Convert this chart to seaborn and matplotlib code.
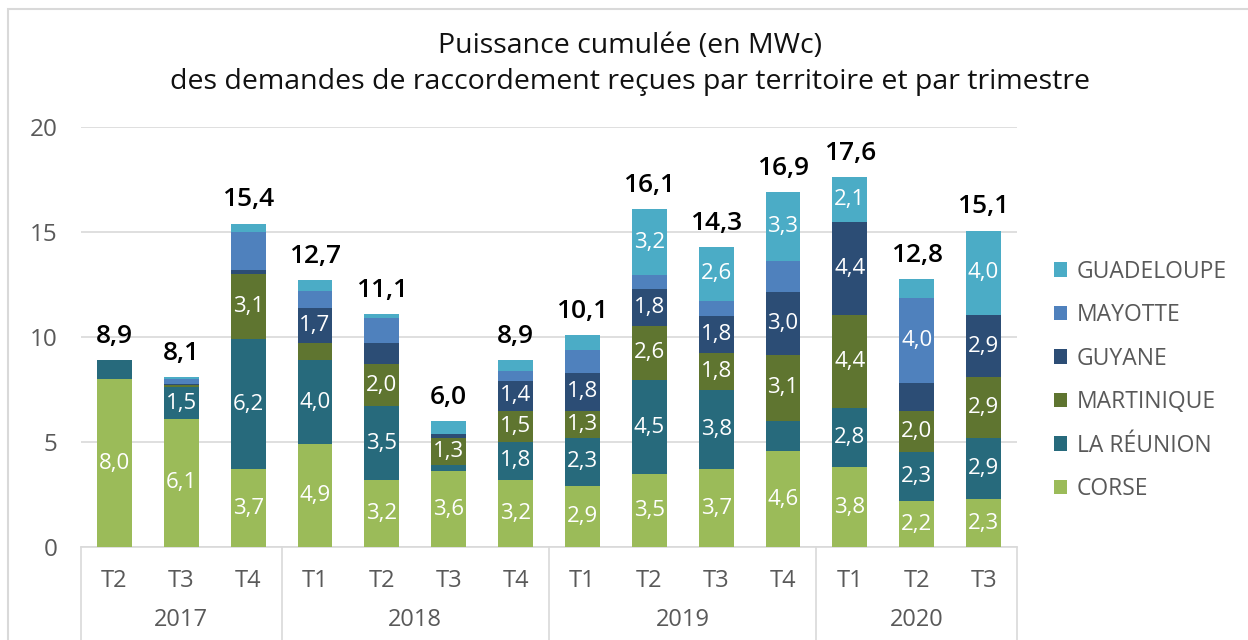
import matplotlib
matplotlib.use("Agg")
import matplotlib.pyplot as plt
import matplotlib.transforms as mtransforms
from matplotlib.patches import Patch, Rectangle
import seaborn as sns
import pandas as pd

# data (MWc)
quarters = ["T2", "T3", "T4", "T1", "T2", "T3", "T4", "T1", "T2", "T3", "T4", "T1", "T2", "T3"]
years = ["2017", "2018", "2019", "2020"]
year_sizes = [3, 4, 4, 3]

corse = [8.0, 6.1, 3.7, 4.9, 3.2, 3.6, 3.2, 2.9, 3.46, 3.70, 4.56, 3.80, 2.18, 2.27]
reunion = [0.9, 1.5, 6.2, 4.0, 3.5, 0.3, 1.8, 2.3, 4.49, 3.76, 1.46, 2.84, 2.33, 2.94]
martinique = [0.0, 0.1, 3.1, 0.8, 2.0, 1.3, 1.5, 1.3, 2.59, 1.78, 3.12, 4.41, 1.97, 2.88]
guyane = [0.0, 0.05, 0.2, 1.7, 1.0, 0.2, 1.4, 1.8, 1.76, 1.77, 2.99, 4.43, 1.32, 2.94]
mayotte = [0.0, 0.25, 1.8, 0.8, 1.2, 0.0, 0.5, 1.1, 0.63, 0.72, 1.51, 0.0, 4.04, 0.0]
guadeloupe = [0.0, 0.1, 0.4, 0.5, 0.2, 0.6, 0.5, 0.7, 3.18, 2.57, 3.27, 2.14, 0.94, 4.04]

territories = ["GUADELOUPE", "MAYOTTE", "GUYANE", "MARTINIQUE", "LA RÉUNION", "CORSE"]
colors = ["#4BACC6", "#4F81BD", "#2C4D75", "#5F7530", "#276A7C", "#9BBB59"]
series = [guadeloupe, mayotte, guyane, martinique, reunion, corse]

# segments whose value label is not shown in the original
hidden = {(2, "MAYOTTE"), (10, "LA RÉUNION"), (10, "MAYOTTE"), (12, "GUYANE")}

rows = []
for name, vals in zip(territories, series):
    for i, v in enumerate(vals):
        rows.append({"pos": i, "territoire": name, "valeur": v})
df = pd.DataFrame(rows)

sns.set_style("white")
plt.rcParams["font.family"] = ["Open Sans", "DejaVu Sans"]

fig = plt.figure(figsize=(12.48, 6.4), dpi=100)
ax = fig.add_axes([81 / 1248, 1 - 547 / 640, 936 / 1248, 420 / 640])

sns.histplot(data=df, x="pos", weights="valeur", hue="territoire",
             hue_order=territories, palette=dict(zip(territories, colors)),
             multiple="stack", discrete=True, shrink=0.52, alpha=1,
             linewidth=0, legend=False, ax=ax, zorder=3)

ax.set_xlim(-0.5, 13.5)
ax.set_ylim(0, 20)
ax.set_yticks([0, 5, 10, 15, 20])
ax.set_yticklabels(["0", "5", "10", "15", "20"], fontsize=17.5, color="#595959")
ax.set_xticks(range(len(quarters)))
ax.set_xticklabels(quarters, fontsize=17, color="#595959")
ax.tick_params(axis="both", length=0)
ax.tick_params(axis="x", pad=16)
ax.tick_params(axis="y", pad=17)
ax.set_xlabel("")
ax.set_ylabel("")
ax.grid(axis="y", color="#D9D9D9", linewidth=1.2, zorder=0)
ax.set_axisbelow(True)
for s in ["top", "right", "left"]:
    ax.spines[s].set_visible(False)
ax.spines["bottom"].set_color("#D9D9D9")
ax.spines["bottom"].set_linewidth(1.2)

# segment labels
bottom = [0.0] * len(quarters)
for name, vals in reversed(list(zip(territories, series))):
    for i, v in enumerate(vals):
        if v >= 1.25 and (i, name) not in hidden:
            ax.text(i, bottom[i] + v / 2, f"{v:.1f}".replace(".", ","),
                    ha="center", va="center", color="white", fontsize=16, zorder=5)
        bottom[i] += v

# totals
for i, t in enumerate(bottom):
    ax.annotate(f"{t:.1f}".replace(".", ","), (i, t), xytext=(0, 8),
                textcoords="offset points", ha="center", va="bottom",
                fontsize=19, fontweight="semibold", color="black", zorder=5)

# year level of the category axis
trans = mtransforms.blended_transform_factory(ax.transData, ax.transAxes)
start = 0
edges = [-0.5]
for y, n in zip(years, year_sizes):
    ax.text(start + (n - 1) / 2, -0.174, y, transform=trans, ha="center", va="center",
            fontsize=17, color="#595959")
    start += n
    edges.append(start - 0.5)
for e in edges:
    ax.plot([e, e], [0, -0.23], transform=trans, color="#D9D9D9", lw=1.2, clip_on=False)

handles = [Patch(facecolor=c, edgecolor="none", label=n) for n, c in zip(territories, colors)]
fig.legend(handles=handles, loc="upper left", bbox_to_anchor=(1033 / 1248, 1 - 239 / 640),
           frameon=False, handlelength=0.6, handleheight=0.6, handletextpad=0.4,
           labelspacing=0.85, prop={"size": 16.5}, labelcolor="#595959")

fig.text(0.505, 1 - 46 / 640, "Puissance cumulée (en MWc)", ha="center", va="center",
         fontsize=20.5, color="#111111")
fig.text(0.505, 1 - 82 / 640, "des demandes de raccordement reçues par territoire et par trimestre",
         ha="center", va="center", fontsize=20.5, color="#111111")

fig.patches.append(Rectangle((8 / 1248, -0.1), 1.2, 1.1 - 9 / 640, transform=fig.transFigure,
                             fill=False, edgecolor="#D9D9D9", lw=1.5))

fig.savefig("out.png", dpi=100)
